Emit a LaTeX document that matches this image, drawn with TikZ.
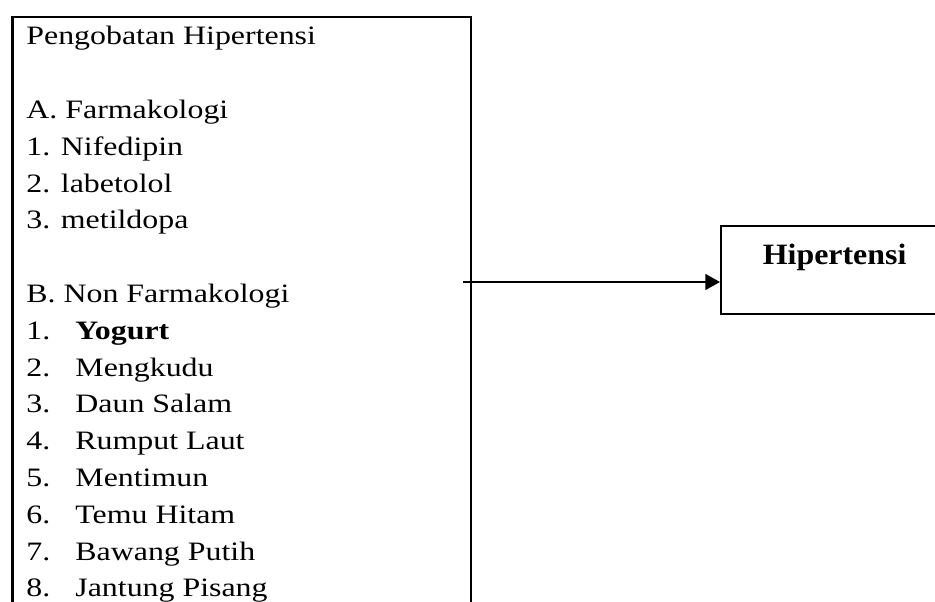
\documentclass[tikz,border=0pt]{standalone}
\usepackage{fontspec}
\setmainfont{Liberation Serif}[FakeStretch=1.2]
\newfontfamily\headfont{Liberation Serif}[FakeStretch=1.08]
\usepackage{tikz}
\usetikzlibrary{positioning,arrows.meta}

\begin{document}
\begin{tikzpicture}[every node/.style={font=\fontsize{12.6}{15}\selectfont},
		frame/.style={draw, line width=1.1pt, inner sep=0, anchor=north west},
		listline/.style={anchor=base west, inner sep=0}]
		% Canvas (the boxes run past the edges)
		\useasboundingbox (0,0) rectangle (15.583,10.033);
		\clip (0,0) rectangle (15.583,10.033);
		
		% ===== BOXES =====
		% Left box - treatments (open at the bottom edge)
		\node[frame, minimum width=7.64cm, minimum height=11cm] (treatbox) at (0.19,9.767) {};
		
		% Right box - outcome
		\node[frame, minimum width=3.8cm, minimum height=1.467cm] (hypbox) at (12.0,6.283) {};
		\node[font=\fontsize{14}{17}\headfont\bfseries, anchor=base, inner sep=0] (hyplabel) at (13.91,5.628) {Hipertensi};
		
		% ===== LIST (Top to Bottom) =====
		\node[listline] (title) at (0.433,9.283) {Pengobatan Hipertensi};
		
		% A. Farmakologi
		\node[listline] (farma) at (0.433,8.057) {A. Farmakologi};
		\foreach \drug [count=\i] in {Nifedipin, labetolol, metildopa}
			\node[listline] (farma\i) at (0.433,{7.443-0.6133*(\i-1)}) {\i. \drug};
		
		% B. Non Farmakologi
		\node[listline] (nonfarma) at (0.433,4.990) {B. Non Farmakologi};
		\foreach \herb [count=\i] in {\textbf{Yogurt}, Mengkudu, Daun Salam, Rumput Laut, Mentimun, Temu Hitam, Bawang Putih, Jantung Pisang} {
			\node[listline] (num\i) at (0.433,{4.377-0.6133*(\i-1)}) {\i.};
			\node[listline] (herb\i) at (1.25,{4.377-0.6133*(\i-1)}) {\herb};
		}
		
		% ===== ARROW =====
		\coordinate (from) at (7.717,5.333);
		\draw[line width=1.1pt, -{Triangle[length=7pt, width=7.5pt]}] (from) -- (from -| hypbox.west);
		
	\end{tikzpicture}
\end{document}
